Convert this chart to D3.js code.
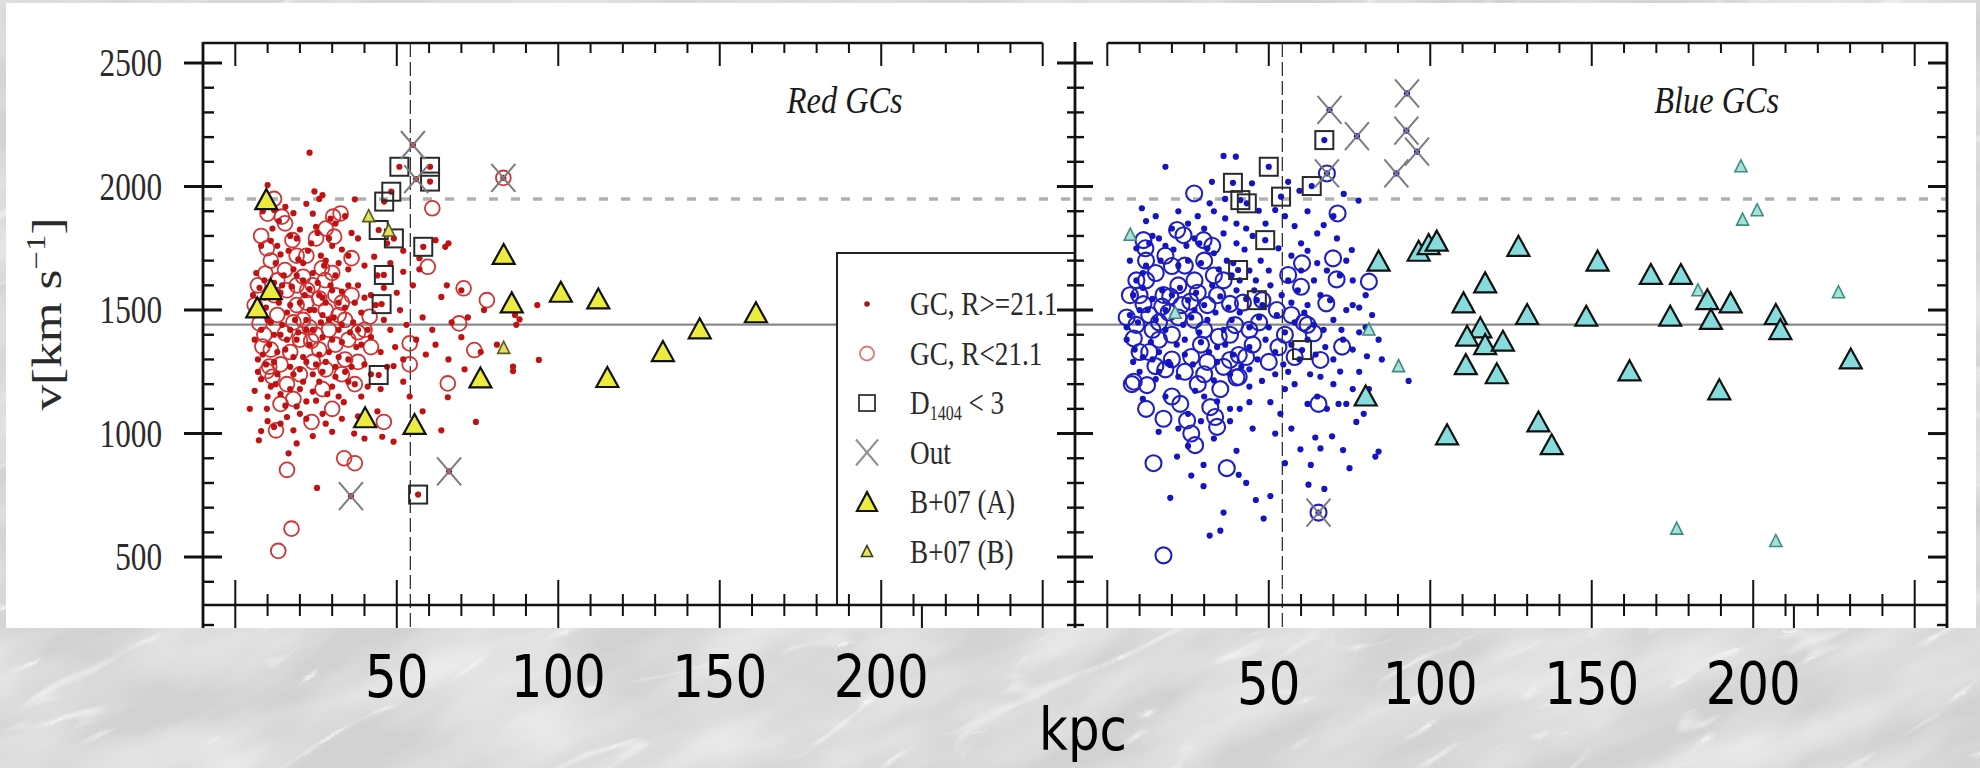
<!DOCTYPE html>
<html>
<head>
<meta charset="utf-8">
<script src="https://cdn.jsdelivr.net/npm/d3@7"></script>
<style>
  html, body { margin: 0; padding: 0; background: #d4d4d4; }
  svg { display: block; }
</style>
</head>
<body>
<svg id="chart" width="1980" height="768"></svg>
<script>
// ---- axis settings ----
const vDomain = [306, 2581];          // km/s covered by the frame
const kpcDomain = [-10, 260];         // projected radius covered by each panel
const vMajorTicks = [500, 1000, 1500, 2000, 2500];
const vMinorTicks = d3.range(400, 2600, 100);
const kpcTicks = d3.range(0, 251, 10);
const kpcLabels = ["50", "100", "150", "200"];
const kpcLabelValues = [50, 100, 150, 200];
const vSystemic = 1441;
const vEscape = 1950;
const rLimit = 54.2;
const lowerPanelTick = 212.6;
const lowerPanelVTick = 225;

// ---- Red GCs: [R (kpc), v (km/s)] ----
const redDots = [
  [23,2137],[10,2006],[24.5,1980],[26,1950],[27,1965],[15.5,1918],[22,1930],[18,1892],[24,1890],[37,1948],
  [12,1905],[29.5,1870],[31,1850],[13.5,1860],[34,1880],
  [25,1837],[25.5,1812],[20,1826],[17,1800],[11,1780],[36,1812],[38,1790],[43,1716],[30,1760],[33,1745],
  [22.5,1740],[14,1725],[8,1760],[47,1770],[52,1740],[62,1783],[65,1756],[66,1770],[57,1710],[28,1700],[19.5,1705],
  [52,1655],[57,1665],[48,1690],[40,1680],[44,1640],[35,1665],[31,1640],[27.5,1680],[24,1650],[21,1620],
  [18,1665],[15,1640],[12.5,1690],[9,1620],[6.5,1650],[10.5,1580],[14,1570],[17.5,1595],[23,1585],[26,1560],
  [29.5,1600],[33,1575],[38,1600],[42,1560],[46,1590],[50,1570],[55,1600],[63.8,1553],[65.5,1600],[70,1580],
  [7,1480],[9.5,1510],[11,1450],[13.5,1530],[16,1490],[18.5,1460],[20,1530],[22,1420],[24.5,1500],[26.5,1450],
  [28,1530],[30.5,1470],[32,1420],[34,1510],[36.5,1450],[39,1490],[41,1420],[43.5,1520],[46,1460],[48,1420],
  [51,1500],[53,1440],[58,1470],[61,1420],[67,1450],[72,1470],[86.6,1480],[88,1462],[87,1440],[93.5,1520],[77,1500],
  [6,1380],[8.5,1320],[10.5,1360],[12,1290],[14,1400],[15.5,1340],[17,1270],[19,1380],[21,1310],[23,1360],
  [25,1280],[27,1390],[29,1330],[31,1270],[33,1370],[35,1300],[37.5,1350],[40,1280],[42,1390],[45,1330],
  [47,1270],[49.5,1350],[52,1300],[56,1380],[59,1320],[62,1360],[66,1300],[70,1390],[76,1330],[81,1360],
  [86,1271],[94,1298],[71,1260],
  [6,1173],[8,1220],[10,1150],[12.5,1200],[14,1160],[15.5,1113],[18,1240],[20,1180],[22,1130],[25,1133],
  [26,1210],[28.5,1160],[31,1230],[33.6,1127],[37,1200],[39,1150],[42,1240],[45,1180],[49,1273],[52,1210],
  [54,1150],[65.8,1147],[86,1253],
  [9.8,1100],[7.3,973],[12,1027],[16,1067],[16.5,920],[18,1013],[22,1060],[27,1080],[30,1007],[36.8,1000],
  [38,1070],[45.5,987],[49,967],[44,1090],[63.8,1013],[74.5,1047],[58,1090],
  [25.3,780],[4.5,1100],
  [8.5,1900],[11.5,1830],[13,1760],[16.5,1740],[19,1790],[21,1690],[23.5,1770],[26.5,1720],[29,1790],[32,1690],
  [35,1720],[5.5,1560],[7.5,1590],[9,1550],[12,1610],[14.5,1600],[17,1520],[19,1640],[21.5,1560],[23,1500],
  [25.5,1610],[27,1550],[30,1580],[32,1530],[35,1600],[37,1530],[40,1550],[8,1420],[10,1460],[12,1400],
  [14.5,1440],[17,1420],[19.5,1410],[22,1460],[24,1420],[27,1480],[29,1460],[33,1440],[35.5,1410],[38,1420],
  [7,1300],[9.5,1280],[13,1330],[16,1380],[18,1310],[20,1260],[22,1290],[24,1240],[26,1320],[28,1290],
  [30,1380],[32,1310],[34,1250],[36,1270],[39,1360],[7,1250],[11,1190],[13,1240],[17,1180],[19,1110],
  [21,1210],[24,1170],[27,1250],[30,1190],[32,1150],[35,1210],[41,1190],[10,1050],[14,1040],[20,1080],
  [24,990],[28,1040],[33,1060],[8,1010],[40,980],[19,960]
];
const redRings = [
  [14.4,1878],[15.4,1851],[9.8,1750],[17.7,1783],[30.3,1878],[32.6,1891],[30.6,1797],[9.3,1648],[15.4,1662],
  [21,1635],[26.8,1669],[27.8,1621],[22.3,1581],[26,1547],[7.5,1446],[8.4,1352],[10.5,1271],[11.5,1230],
  [15.4,1406],[17,1330],[21,1460],[23.5,1375],[25,1400],[28,1500],[33,1530],[40,1420],[41.6,1473],[42,1350],
  [38,1290],[54,1365],[54,1280],[59.6,1675],[61,1912],[65.8,1203],[70.7,1588],[69.3,1446],[74,1338],[77.9,1540],
  [9.8,1253],[12.6,1013],[16,853],[23.6,1047],[33.7,900],[37,880],[46,1047],[13.3,525],[17.4,615],
  [12,1560],[13,1480],[19,1520],[24,1290],[29,1420],[31,1560],[35,1380],[36,1710],[19,1720],[11,1700],
  [6,1520],[20,1240],[27,1180],[33,1240],[14,1120],[30,1100],[83,2035],
  [8,1800],[10,1890],[13,1620],[16,1580],[18,1450],[20,1380],[22,1530],[24,1600],[26,1340],[28,1260],
  [30,1650],[32,1480],[34,1300],[36,1560],[38,1410],[7,1600],[9,1400],[11,1340],[14,1280],[16,1200],
  [18,1140],[22,1720],[25,1790],[28,1830],[12,1950],[34,1460],[23,1430],[19,1600],[31,1360],[37,1200]
];
const redSquares = [
  [50.8,2080],[60.3,2080],[60.3,2020],[48.3,1979],[46.1,1939],[44.4,1824],[49.1,1790],[58.2,1756],
  [46,1642],[45.3,1524],[44.4,1237],[56.6,753]
];
const redOut = [[55,2168],[56,2030],[83,2035],[35.8,747],[66.2,847]];
const redB07A = [
  [9.6,1945],[11,1581],[6.8,1507],[83.1,1723],[85.6,1527],[100.8,1570],[112.4,1543],[75.9,1223],
  [115.2,1225],[132.4,1330],[143.8,1422],[161.2,1487],[40.2,1062],[55.5,1035]
];
const redB07B = [[41.3,1878],[47.5,1820],[83.1,1345]];

// ---- Blue GCs: [R (kpc), v (km/s)] ----
const blueDots = [
  [36,2124],[39.8,2121],[18,2080],[32.4,2019],[44.8,2013],[56,2019],[59.5,1983],[73.2,1970],[77.8,1943],
  [10.7,1912],[31.7,1932],[36.5,1950],[46.9,1902],[52,1905],[36.5,1871],[67,1844],[71.1,1790],[75.7,1743],
  [36,1810],[40,1850],
  [14,1800],[16,1790],[13,1770],[18,1760],[20.5,1745],[24.5,1760],[27,1790],[28.5,1770],[31,1750],[33,1730],
  [37,1700],[40,1770],[42.5,1745],[25,1700],[12,1680],[16.5,1700],[22,1680],[29,1690],[34.5,1665],[38.5,1640],
  [41,1620],[44,1660],[47.5,1700],[53,1750],[57,1720],[60,1770],[62,1740],[65,1690],[68,1660],[72,1640],
  [64,1620],[56,1620],[9,1620],[11,1650],
  [8,1560],[11,1590],[14,1545],[17,1580],[20,1560],[22.5,1590],[25,1540],[27.5,1570],[30,1520],[32.5,1600],
  [35,1555],[37.5,1510],[40,1580],[43,1545],[45.5,1580],[48,1520],[50.5,1600],[54,1560],[57,1530],[59,1580],
  [62,1520],[66,1560],[69,1540],[74,1500],[76,1520],[78,1510],[7,1480],[9.5,1450],[12.5,1500],[15,1460],
  [18,1420],[21,1480],[23.5,1440],[26,1470],[28.5,1410],[31,1460],[33.5,1490],[36,1420],[38.5,1460],[41,1490],
  [44,1430],[47,1470],[50,1430],[52.5,1480],[55,1410],[58,1450],[61,1490],[64,1440],[67,1420],[70,1460],
  [72.5,1420],[78,1410],[80,1430],
  [6,1380],[8.5,1340],[11,1310],[13.5,1370],[16,1330],[19,1290],[21.5,1360],[24,1320],[26.5,1280],[29,1370],
  [31.5,1330],[34,1290],[36.5,1360],[39,1320],[41.5,1270],[44,1350],[46.5,1300],[49,1380],[52,1330],[54.5,1280],
  [57,1360],[59.5,1300],[62,1380],[64.5,1320],[67.5,1350],[70,1300],[73,1380],[76,1340],[19.5,1280],[27.2,1173],
  [22,1230],[10,1250],[15,1220],[33,1215],[47.9,1213],[62.8,1240],[72.1,1251],[80.4,1313],[93.3,1213],[66,1230],
  [56,1250],[38,1240],[44,1260],
  [44,1127],[50.5,1127],[53.6,1080],[52,1000],[59.8,936],[64.4,984],[69.6,989],[63,873],[62.3,793],[67.2,776],
  [71.6,1120],[74,1120],[73,933],[77.1,1047],[79.4,1080],[84,927],[83,907],[22,1020],[15.9,1007],[21.6,907],
  [29.8,873],[29.8,787],[19.5,740],[36,680],[35,607],[31.7,587],[40.7,833],[46,731],[50.5,747],[48.4,656],
  [38,1100],[41,1100],[65,1150],[68,1100],[62,1120],[11,1140],[18,1150],[25,1080],[29,1050],[34,1130],[55,1180],
  [7,1700],[9,1750],[12,1860],[15,1880],[20,1830],[22,1900],[25,1850],[28,1880],[30,1830],[33,1900],
  [43,1830],[45,1800],[49,1850],[55,1880],[58,1840],[62,1900],[65,1810],[70,1880],[74,1700],[76,1620],
  [80,1560],[82,1480],[84,1380],[85,1300],[78,1250],[81,1180],[60,1660],[50,1660],[46,1620],[39,1690],
  [27,1500],[18,1500],[10,1500],[6,1430],[14,1300],[24,1380],[34,1350],[44,1190],[52,1240],[58,1200],
  [70,1200],[76,1180],[16,1250],[8,1290],[30,1150],[38,1050],[45,1020],[33,980],[25,950],[40,930],
  [57,1020],[55,880],[66,940],[75,860],[43,800],[26,830]
];
const blueRings = [
  [26.9,1972],[71.3,1891],[21.6,1824],[23.6,1803],[11.2,1783],[11.8,1750],[29.8,1783],[32.5,1760],[20,1678],
  [69.9,1709],[71,1624],[81,1615],[56,1642],[60.3,1689],[60,1594],[36,1620],[17.4,1561],[19.5,1555],[11.2,1524],
  [17,1514],[25.7,1534],[31,1520],[38,1525],[42,1530],[52.5,1500],[67.8,1527],[60.8,1449],[39.6,1439],[63.9,1406],
  [8.2,1385],[34.5,1392],[40.7,1318],[38,1298],[53,1350],[66,1298],[72.7,1352],[40.7,1230],[8.2,1210],[12.3,1196],
  [14.9,1273],[7.6,1200],[22.6,1120],[17.4,1060],[24.7,1053],[31.9,1107],[33.4,1067],[34,1027],[27.2,953],
  [14.3,880],[37,860],[40,1227],[65.4,1120],[17.4,507],[6,1470],[9,1440],[14,1420],[20,1400],[27,1460],
  [30,1420],[44,1420],[48,1540],[10,1560],[22,1470],[26,1310],[29,1360],[36,1270],[45,1360],[58,1310],
  [62,1440],[13,1330],[20,1300],[68,2053],[65.4,680],
  [9,1620],[12,1700],[15,1650],[18,1720],[22,1600],[24,1680],[27,1620],[30,1700],[33,1640],[7,1560],
  [13,1480],[16,1450],[19,1490],[23,1520],[28,1570],[34,1560],[10,1330],[16,1380],[18,1260],[24,1250],
  [28,1200],[31,1290],[35,1180],[43,1310],[50,1290],[55,1400],[47,1450],[57,1480],[12,1100],[20,1150],
  [30,1240],[26,1000],[38,1400],[12,1620]
];
const blueSquares = [
  [67.2,2188],[50,2080],[38.9,2015],[41.2,1945],[43.2,1932],[53.8,1959],[63.3,2002],[48.9,1783],
  [40.5,1662],[46.3,1540],[60.3,1338]
];
const blueOut = [
  [68.8,2310],[77.3,2204],[92.8,2377],[92.6,2226],[95.9,2141],[89.5,2053],[68,2053],[65.4,680]
];
const blueB07A = [
  [84,1696],[96.4,1736],[99.5,1763],[102,1777],[127.3,1756],[117,1608],[110.3,1527],[130,1480],[115.5,1426],
  [111.4,1392],[117,1358],[122.5,1372],[111,1277],[120.6,1240],[80,1150],[105.2,993],[133.5,1045],[137.6,953],
  [151.8,1696],[148.3,1473],[168.3,1642],[177.6,1642],[185.8,1540],[193,1527],[174.3,1473],[186.9,1460],
  [207,1480],[208.4,1419],[161.7,1252],[189.5,1175],[230.2,1300]
];
const blueB07B = [
  [196.2,2080],[201.2,1902],[196.7,1864],[182.9,1578],[226.4,1570],[7.1,1803],[21,1487],[81,1419],
  [90.2,1271],[176.3,613],[207,563]
];

const legendLabels = ["GC, R>=21.1", "GC, R<21.1", "D|1404| < 3", "Out", "B+07 (A)", "B+07 (B)"];
const legendSymbols = ["dot", "ring", "square", "cross", "triA", "triB"];

// ---- layout ----
const W = 1980, H = 768;
const frameTop = 43, frameBottom = 605, sheetBottom = 628;
const panelEdges = [[203, 1075], [1075, 1947]];

const svg = d3.select("#chart");
const defs = svg.append("defs");

// stone-like backdrop: soft blotches plus thin pale veins
const fb = defs.append("filter").attr("id", "blotch")
  .attr("x", 0).attr("y", 0).attr("width", "100%").attr("height", "100%");
fb.append("feTurbulence").attr("type", "fractalNoise")
  .attr("baseFrequency", "0.006 0.018").attr("numOctaves", 3).attr("seed", 4);
fb.append("feColorMatrix").attr("type", "matrix")
  .attr("values", "0 0 0 0 1  0 0 0 0 1  0 0 0 0 1  1.0 0 0 0 -0.3");
const fv = defs.append("filter").attr("id", "veins")
  .attr("x", 0).attr("y", 0).attr("width", "100%").attr("height", "100%");
fv.append("feTurbulence").attr("type", "turbulence")
  .attr("baseFrequency", "0.004 0.016").attr("numOctaves", 3).attr("seed", 9);
fv.append("feColorMatrix").attr("type", "matrix")
  .attr("values", "0 0 0 0 1  0 0 0 0 1  0 0 0 0 1  -5 0 0 0 0.6");
defs.append("clipPath").attr("id", "pageClip").append("rect")
  .attr("width", W).attr("height", H);

svg.append("rect").attr("width", W).attr("height", H).attr("fill", "#d2d2d2");
const stone = svg.append("g").attr("clip-path", "url(#pageClip)");
["blotch", "veins"].forEach(id => {
  stone.append("rect")
    .attr("x", -600).attr("y", -800).attr("width", W + 1200).attr("height", H + 1600)
    .attr("transform", `rotate(-24 ${W / 2} ${H / 2})`)
    .attr("filter", `url(#${id})`);
});

// white sheet holding the figure
svg.append("rect").attr("x", 6).attr("y", 3).attr("width", 1970).attr("height", sheetBottom - 3)
  .attr("fill", "#ffffff");

const y = d3.scaleLinear().domain(vDomain).range([frameBottom, frameTop]);
const xs = panelEdges.map(r => d3.scaleLinear().domain(kpcDomain).range(r));

// reference velocities
const refG = svg.append("g");
refG.append("line")
  .attr("x1", panelEdges[0][0]).attr("x2", panelEdges[1][1])
  .attr("y1", y(vSystemic)).attr("y2", y(vSystemic))
  .attr("stroke", "#8a8a8a").attr("stroke-width", 2.2);
refG.append("line")
  .attr("x1", panelEdges[0][0]).attr("x2", panelEdges[1][1])
  .attr("y1", y(vEscape)).attr("y2", y(vEscape))
  .attr("stroke", "#b0b0b0").attr("stroke-width", 3.5).attr("stroke-dasharray", "9 13");
xs.forEach(x => {
  refG.append("line")
    .attr("x1", x(rLimit)).attr("x2", x(rLimit))
    .attr("y1", frameTop).attr("y2", sheetBottom)
    .attr("stroke", "#333").attr("stroke-width", 1.3).attr("stroke-dasharray", "14 5");
});

// marker paths
const triPath = (hw, up, down) => `M0,${-up}L${hw},${down}L${-hw},${down}Z`;

function drawPanel(x, s) {
  const g = svg.append("g");
  const dotPts = s.dots.concat(s.squares, s.out);
  g.selectAll(".ring").data(s.rings).join("circle")
    .attr("cx", d => x(d[0])).attr("cy", d => y(d[1])).attr("r", s.ringR)
    .attr("fill", "none").attr("stroke", s.ringColor).attr("stroke-width", s.ringW);
  g.selectAll(".dot").data(dotPts).join("circle")
    .attr("cx", d => x(d[0])).attr("cy", d => y(d[1])).attr("r", 3.1)
    .attr("fill", s.dotColor);
  g.selectAll(".sq").data(s.squares).join("rect")
    .attr("x", d => x(d[0]) - 9).attr("y", d => y(d[1]) - 9)
    .attr("width", 18).attr("height", 18)
    .attr("fill", "none").attr("stroke", "#2a2a2a").attr("stroke-width", 2);
  g.selectAll(".out").data(s.out).join("path")
    .attr("d", d => {
      const cx = x(d[0]), cy = y(d[1]);
      return `M${cx - 12},${cy - 14}L${cx + 12},${cy + 14}M${cx - 12},${cy + 14}L${cx + 12},${cy - 14}`;
    })
    .attr("stroke", "#7a7a80").attr("stroke-width", 2).attr("fill", "none");
  g.selectAll(".tb").data(s.b07b).join("path")
    .attr("transform", d => `translate(${x(d[0])},${y(d[1])})`)
    .attr("d", triPath(6, 7, 5))
    .attr("fill", s.smallFill).attr("stroke", s.smallStroke).attr("stroke-width", 1.6);
  g.selectAll(".ta").data(s.b07a).join("path")
    .attr("transform", d => `translate(${x(d[0])},${y(d[1])})`)
    .attr("d", triPath(11, 11, 9))
    .attr("fill", s.bigFill).attr("stroke", "#111").attr("stroke-width", 2.2);
}

drawPanel(xs[0], {
  dots: redDots, rings: redRings, squares: redSquares, out: redOut, b07a: redB07A, b07b: redB07B,
  dotColor: "#c01212", ringColor: "#d03434", ringR: 7.4, ringW: 1.8,
  bigFill: "#ecec3e", smallFill: "#e4e060", smallStroke: "#5b5a1e"
});
drawPanel(xs[1], {
  dots: blueDots, rings: blueRings, squares: blueSquares, out: blueOut, b07a: blueB07A, b07b: blueB07B,
  dotColor: "#1414c0", ringColor: "#2020c0", ringR: 8, ringW: 2.1,
  bigFill: "#86dcdc", smallFill: "#a6e2da", smallStroke: "#3e8c80"
});

// legend
const lg = svg.append("g");
lg.append("rect").attr("x", 837).attr("y", 253)
  .attr("width", panelEdges[0][1] - 837).attr("height", frameBottom - 253)
  .attr("fill", "#fff").attr("stroke", "#222").attr("stroke-width", 2);
legendLabels.forEach((lab, i) => {
  const base = 315 + i * 49.5, sy = base - 11, sx = 867;
  const sym = legendSymbols[i];
  if (sym === "dot") lg.append("circle").attr("cx", sx).attr("cy", sy).attr("r", 2.8).attr("fill", "#a01828");
  if (sym === "ring") lg.append("circle").attr("cx", sx).attr("cy", sy).attr("r", 7)
    .attr("fill", "none").attr("stroke", "#e07878").attr("stroke-width", 1.8);
  if (sym === "square") lg.append("rect").attr("x", sx - 8).attr("y", sy - 8).attr("width", 16).attr("height", 16)
    .attr("fill", "none").attr("stroke", "#333").attr("stroke-width", 1.8);
  if (sym === "cross") lg.append("path")
    .attr("d", `M${sx - 11},${sy - 13}L${sx + 11},${sy + 13}M${sx - 11},${sy + 13}L${sx + 11},${sy - 13}`)
    .attr("stroke", "#909090").attr("stroke-width", 2);
  if (sym === "triA") lg.append("path").attr("transform", `translate(${sx},${sy})`)
    .attr("d", triPath(10, 10, 9)).attr("fill", "#ecec3e").attr("stroke", "#111").attr("stroke-width", 2.2);
  if (sym === "triB") lg.append("path").attr("transform", `translate(${sx},${sy})`)
    .attr("d", triPath(5.5, 6, 5)).attr("fill", "#e4e060").attr("stroke", "#3d3d18").attr("stroke-width", 1.6);
  const t = lg.append("text").attr("transform", `translate(910,${base}) scale(0.8,1)`)
    .attr("font-family", "'Liberation Serif', 'Times New Roman', serif").attr("font-size", 34).attr("fill", "#2a2a2a");
  const parts = lab.split("|");
  if (parts.length === 3) {
    t.append("tspan").text(parts[0]);
    t.append("tspan").attr("font-size", 20).attr("dy", 6).text(parts[1]);
    t.append("tspan").attr("dy", -6).text(" " + parts[2].trim());
  } else {
    t.text(lab);
  }
});

// axes
const ax = svg.append("g").attr("stroke", "#111").attr("fill", "none");
ax.append("line").attr("x1", xs[0](kpcDomain[0])).attr("x2", xs[0](250)).attr("y1", frameTop).attr("y2", frameTop).attr("stroke-width", 2.6);
ax.append("line").attr("x1", xs[1](0)).attr("x2", xs[1](kpcDomain[1])).attr("y1", frameTop).attr("y2", frameTop).attr("stroke-width", 2.6);
ax.append("line").attr("x1", panelEdges[0][0]).attr("x2", panelEdges[1][1]).attr("y1", frameBottom).attr("y2", frameBottom).attr("stroke-width", 2.6);
[panelEdges[0][0], panelEdges[0][1], panelEdges[1][1]].forEach(px => {
  ax.append("line").attr("x1", px).attr("x2", px).attr("y1", frameTop - 1).attr("y2", sheetBottom).attr("stroke-width", 2.8);
});
xs.forEach(x => {
  kpcTicks.forEach(k => {
    const major = k % 50 === 0;
    ax.append("line").attr("x1", x(k)).attr("x2", x(k))
      .attr("y1", frameTop).attr("y2", frameTop + (major ? 23 : 10)).attr("stroke-width", 2);
    ax.append("line").attr("x1", x(k)).attr("x2", x(k))
      .attr("y1", major ? frameBottom - 25 : frameBottom - 11)
      .attr("y2", major ? sheetBottom : frameBottom + 11).attr("stroke-width", 2);
  });
  ax.append("line").attr("x1", x(lowerPanelTick)).attr("x2", x(lowerPanelTick))
    .attr("y1", frameBottom).attr("y2", sheetBottom).attr("stroke-width", 2);
});
const yTickSpec = [
  { x: panelEdges[0][0], maj: [-19, 19], min: [0, 11] },
  { x: panelEdges[0][1], maj: [-18, 18], min: [-8, 9] },
  { x: panelEdges[1][1], maj: [-19, 0], min: [-10, 0] }
];
yTickSpec.forEach(s => {
  vMinorTicks.forEach(v => {
    const major = vMajorTicks.includes(v);
    const r = major ? s.maj : s.min;
    ax.append("line").attr("x1", s.x + r[0]).attr("x2", s.x + r[1])
      .attr("y1", y(v)).attr("y2", y(v)).attr("stroke-width", major ? 3 : 2.4);
  });
  ax.append("line").attr("x1", s.x + s.min[0]).attr("x2", s.x + s.min[1])
    .attr("y1", y(lowerPanelVTick)).attr("y2", y(lowerPanelVTick)).attr("stroke-width", 2.4);
});

// tick labels on the velocity axis
const serif = "'Liberation Serif', 'Times New Roman', serif";
vMajorTicks.forEach(v => {
  svg.append("text").attr("transform", `translate(162,${y(v) + 13}) scale(0.78,1)`)
    .attr("text-anchor", "end").attr("font-family", serif).attr("font-size", 40).attr("fill", "#2a2a2a")
    .text(d3.format("d")(v));
});

// axis title (drawn along the axis, slightly elongated like the rest of the lettering)
const yt = svg.append("text").attr("transform", `translate(61,314) rotate(-90) scale(1.22,1)`)
  .attr("text-anchor", "middle").attr("font-family", serif).attr("font-size", 42).attr("fill", "#2a2a2a");
yt.append("tspan").text("v[km s");
yt.append("tspan").attr("font-size", 27).attr("dy", -16).text("\u22121");
yt.append("tspan").attr("dy", 16).text("]");

// panel titles
[["Red GCs", xs[0]], ["Blue GCs", xs[1]]].forEach(([t, x]) => {
  svg.append("text").attr("transform", `translate(${x(188.7)},113) scale(0.83,1)`)
    .attr("text-anchor", "middle").attr("font-family", serif).attr("font-style", "italic")
    .attr("font-size", 39).attr("fill", "#1a1a1a").text(t);
});

// radius labels in kpc
const hand = "'DejaVu Sans', sans-serif";
xs.forEach((x, pi) => {
  kpcLabels.forEach((lab, i) => {
    svg.append("text").attr("transform", `translate(${x(kpcLabelValues[i])},${pi === 0 ? 697 : 704}) scale(0.86,1)`)
      .attr("text-anchor", "middle").attr("font-family", hand).attr("font-size", 58).attr("fill", "#000")
      .text(lab);
  });
});
svg.append("text").attr("transform", `translate(${panelEdges[0][1] + 8},750) scale(0.86,1)`)
  .attr("text-anchor", "middle").attr("font-family", hand).attr("font-size", 58).attr("fill", "#000")
  .text("kpc");
</script>
</body>
</html>
